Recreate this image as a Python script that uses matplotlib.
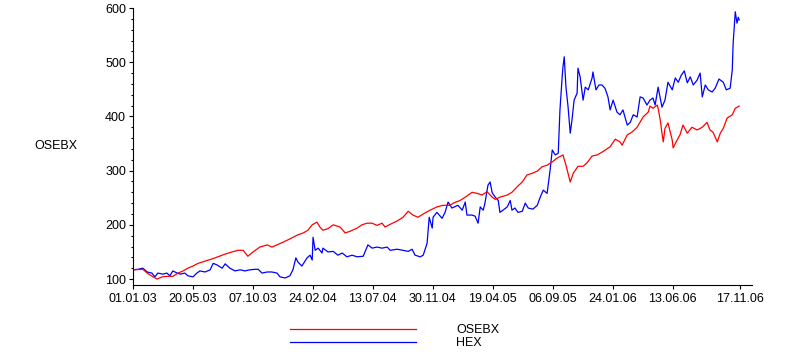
import datetime as dt
import matplotlib
matplotlib.use("Agg")
import matplotlib.pyplot as plt
from matplotlib.ticker import MultipleLocator, FixedLocator

plt.rcParams['font.family'] = ['Liberation Sans', 'DejaVu Sans']

START = dt.date(2003, 1, 1)

# OSEBX (red): days since 01.01.03, index value
osebx_days = [0, 23, 33, 47, 56, 68, 79, 93, 105, 117, 128, 140, 152, 168, 184, 198, 215, 231,
              245, 257, 268, 280, 296, 313, 324, 336, 350, 366, 383, 397, 408, 418, 429, 436,
              443, 455, 467, 483, 495, 506, 523, 534, 546, 558, 569, 581, 588, 600, 616, 630,
              642, 653, 665, 677, 693, 709, 723, 740, 747, 763, 775, 791, 803, 814, 826, 838,
              845, 856, 873, 884, 896, 908, 919, 931, 943, 954, 966, 978, 989, 1003, 1010, 1020,
              1027, 1038, 1050, 1059, 1071, 1083, 1094, 1113, 1125, 1136, 1141, 1153, 1164, 1176,
              1190, 1202, 1206, 1213, 1223, 1225, 1230, 1234, 1237, 1241, 1248, 1258, 1260, 1269,
              1276, 1283, 1293, 1304, 1316, 1328, 1339, 1346, 1353, 1363, 1370, 1377, 1386, 1398,
              1405, 1414]
osebx_vals = [117, 118, 111, 104, 100, 104, 105, 105, 111, 115, 120, 124, 129, 133, 137, 141, 146, 150,
              153, 153, 142, 150, 159, 163, 159, 163, 168, 174, 181, 185, 190, 200, 205, 196,
              190, 193, 200, 196, 185, 188, 194, 200, 203, 203, 199, 203, 196, 201, 207, 214,
              225, 218, 214, 220, 227, 233, 236, 236, 240, 245, 251, 260, 258, 255, 261, 251,
              247, 251, 255, 260, 270, 279, 292, 295, 299, 307, 310, 316, 323, 329, 310, 279,
              295, 308, 308, 314, 327, 329, 334, 344, 358, 353, 347, 366, 371, 380,
              399, 408, 419, 415, 421, 415, 393, 369, 353, 378, 388, 356, 342, 356,
              366, 384, 369, 380, 375, 380, 389, 375, 371, 353, 369, 378, 397, 403,
              415, 419]

# HEX (blue)
hex_days = [0, 12, 23, 33, 44, 51, 58, 70, 79, 86, 93, 103, 110, 121, 128, 140, 149, 156, 168, 180,
            187, 196, 208, 215, 226, 238, 250, 261, 273, 285, 292, 301, 313, 324, 336, 343, 355,
            366, 373, 380, 385, 394, 406, 413, 418, 420, 425, 432, 441, 443, 455, 467, 478, 488,
            499, 511, 523, 537, 548, 558, 569, 581, 593, 600, 616, 630, 642, 651, 658, 670, 677,
            686, 691, 698, 700, 709, 721, 728, 735, 744, 758, 768, 775, 779, 791, 798, 805, 810,
            817, 821, 828, 833, 838, 845, 852, 856, 863, 873, 880, 884, 891, 898, 908, 915, 922,
            933, 943, 950, 957, 966, 973, 978, 985, 992, 996, 1001, 1003, 1006, 1010, 1015, 1020,
            1024, 1029, 1036, 1038, 1043, 1050, 1055, 1062, 1071, 1073, 1080, 1087, 1094, 1101,
            1108, 1113, 1120, 1129, 1136, 1143, 1153, 1160, 1167, 1176, 1183, 1190, 1199, 1206,
            1213, 1218, 1225, 1234, 1241, 1248, 1258, 1265, 1272, 1279, 1286, 1293, 1300, 1307,
            1316, 1323, 1328, 1335, 1342, 1351, 1358, 1367, 1377, 1384, 1393, 1398, 1400, 1405,
            1409, 1412, 1414]
hex_vals = [117, 118, 120, 113, 111, 104, 111, 109, 111, 106, 115, 111, 109, 111, 106, 104, 111, 115,
            113, 117, 129, 126, 120, 128, 120, 115, 117, 115, 117, 118, 118, 111, 113, 113, 111,
            104, 102, 106, 117, 139, 131, 124, 139, 144, 135, 177, 153, 157, 148, 157, 150, 151,
            144, 148, 141, 144, 141, 142, 163, 157, 159, 157, 159, 153, 155, 153, 151, 155, 144,
            141, 144, 166, 214, 194, 214, 223, 212, 223, 242, 231, 236, 227, 242, 218, 218, 216,
            203, 233, 227, 240, 273, 279, 259, 251, 245, 223, 227, 233, 245, 227, 231, 223, 225,
            240, 231, 229, 236, 251, 264, 258, 301, 338, 329, 332, 412, 471, 491, 510, 454, 417,
            369, 393, 430, 443, 489, 473, 430, 454, 449, 471, 482, 449, 458, 458, 452, 436, 412,
            430, 408, 403, 412, 384, 389, 403, 399, 436, 434, 421, 430, 434, 421, 454, 417, 430,
            463, 449, 471, 463, 476, 484, 462, 473, 458, 467, 480, 436, 458, 449, 445, 452, 469,
            463, 449, 452, 486, 535, 593, 572, 583, 578]

tick_labels = ['01.01.03', '20.05.03', '07.10.03', '24.02.04', '13.07.04', '30.11.04',
               '19.04.05', '06.09.05', '24.01.06', '13.06.06', '17.11.06']
y_ticks = [100, 200, 300, 400, 500, 600]
series_names = ['OSEBX', 'HEX']

W, H = 799, 355
fig = plt.figure(figsize=(W / 100, H / 100), dpi=100)
ax = fig.add_axes([133 / W, 1 - 285 / H, (752 - 133) / W, (285 - 8) / H])

ax.plot(hex_days, hex_vals, color='#0000ff', lw=0.9, label=series_names[1])
ax.plot(osebx_days, osebx_vals, color='#ff0000', lw=0.9, label=series_names[0])

ax.set_xlim(0, 1444)
ax.set_ylim(89, 600)

tick_pos = [(dt.datetime.strptime(t, '%d.%m.%y').date() - START).days for t in tick_labels]
ax.xaxis.set_major_locator(FixedLocator(tick_pos))
ax.set_xticklabels(tick_labels)
ax.yaxis.set_major_locator(FixedLocator(y_ticks))
ax.yaxis.set_minor_locator(MultipleLocator(20))

for s in ['top', 'right']:
    ax.spines[s].set_visible(False)
for s in ['left', 'bottom']:
    ax.spines[s].set_linewidth(0.8)
    ax.spines[s].set_color('black')

ax.tick_params(axis='both', which='major', length=3, width=0.8, labelsize=9, pad=2, color='black')
ax.tick_params(axis='y', which='minor', length=1.8, width=0.8)
ax.tick_params(axis='x', pad=2.5)

ax.set_ylabel('OSEBX', rotation=0, fontsize=9, ha='center', va='center')
ax.yaxis.set_label_coords((56 - 133) / (752 - 133), (285 - 146) / (285 - 8))

h_hex, h_ose = ax.get_lines()
fig.legend([h_ose, h_hex], [series_names[0], series_names[1]], loc='upper left',
           bbox_to_anchor=(290 / W, 1 - 324 / H), frameon=False, fontsize=9,
           handlelength=10.1, handletextpad=3.2, labelspacing=0.05, borderpad=0,
           borderaxespad=0, handleheight=0.5)

fig.savefig('out.png', dpi=100)
